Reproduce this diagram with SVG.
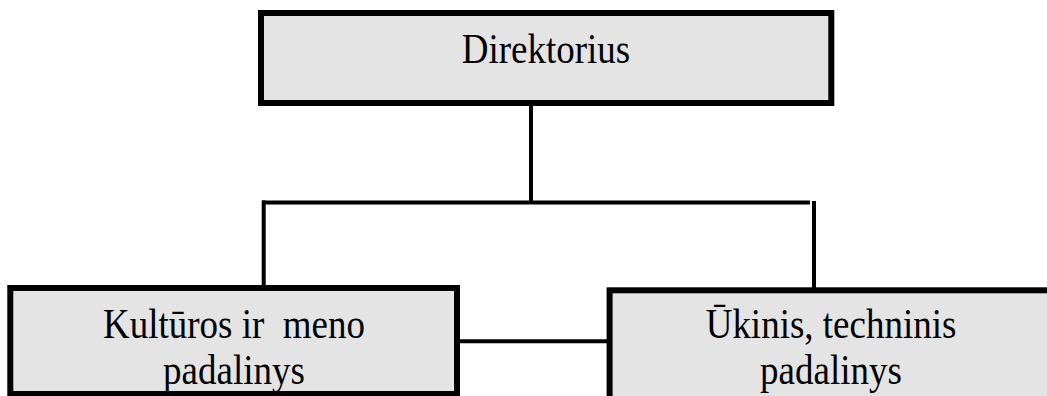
<svg xmlns="http://www.w3.org/2000/svg" width="1047" height="396" viewBox="0 0 1047 396">
<style>
.box{fill:#e4e4e4;stroke:#000;stroke-width:6}
.lbl{font-family:"Liberation Serif","Times New Roman",serif;font-size:37px;fill:#000;text-anchor:middle;white-space:pre}
.ln{stroke:#000;stroke-width:4;fill:none}
</style>
<rect width="1047" height="396" fill="#fff"/>
<g id="connectors">
<line class="ln" x1="531" y1="106" x2="531" y2="204"/>
<line class="ln" x1="262" y1="202.5" x2="810" y2="202.5"/>
<line class="ln" x1="263.7" y1="200.5" x2="263.7" y2="286"/>
<line class="ln" x1="814" y1="201" x2="814" y2="288"/>
<line class="ln" x1="459" y1="341.3" x2="607" y2="341.3"/>
</g>
<g id="direktorius">
<rect class="box" x="261" y="13" width="570.3" height="90"/>
<text class="lbl" transform="translate(546 63) scale(1 1.12)">Direktorius</text>
</g>
<g id="kulturos">
<rect class="box" x="10.3" y="288" width="446.7" height="106"/>
<text class="lbl" transform="translate(234 338) scale(1 1.12)" xml:space="preserve">Kultūros ir  meno</text>
<text class="lbl" transform="translate(234 384) scale(1 1.12)">padalinys</text>
</g>
<g id="ukinis">
<rect class="box" x="609.6" y="290.3" width="443" height="120"/>
<text class="lbl" transform="translate(831 338) scale(1 1.12)">Ūkinis, techninis</text>
<text class="lbl" transform="translate(831 384) scale(1 1.12)">padalinys</text>
</g>
</svg>
